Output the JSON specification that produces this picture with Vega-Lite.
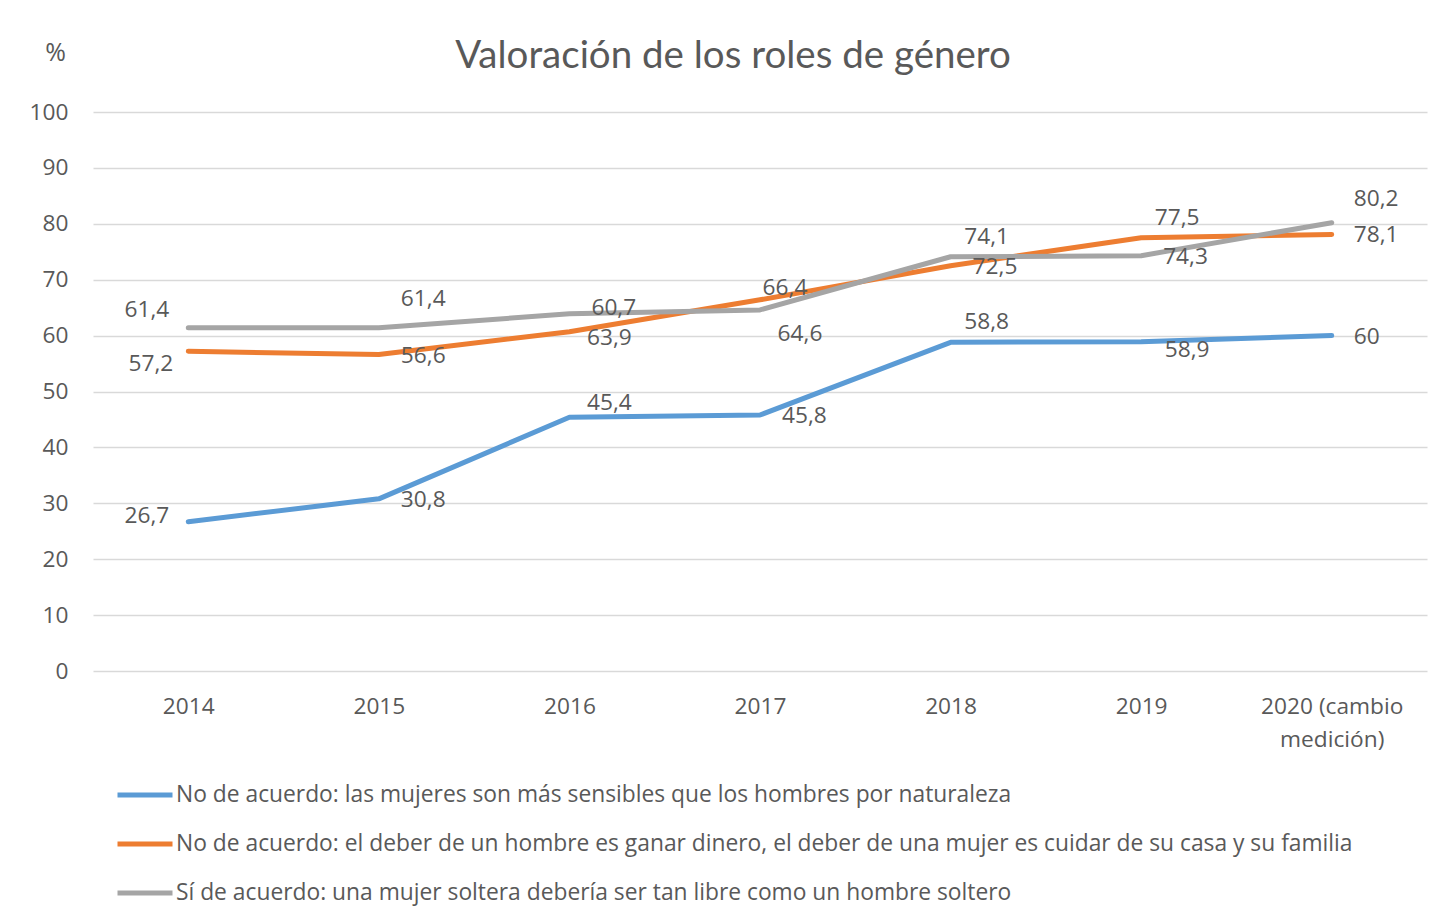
{
  "$schema": "https://vega.github.io/schema/vega-lite/v6.json",
  "width": 1334,
  "height": 559,
  "autosize": {"type": "none"},
  "padding": {"left": 93, "top": 112, "right": 7, "bottom": 251},
  "background": "white",
  "title": {
    "text": "Valoración de los roles de género",
    "fontSize": 38.5,
    "font": "Lato",
    "fontWeight": "normal",
    "color": "#595959",
    "anchor": "middle",
    "dx": -27,
    "offset": -36
  },
  "config": {
    "locale": {"number": {"decimal": ",", "thousands": ".", "grouping": [3], "currency": ["", " €"]}},
    "view": {"stroke": null},
    "font": "Open Sans"
  },
  "data": {
    "values": [
      {"anio": "2014", "cod": "B", "serie": "No de acuerdo: las mujeres son más sensibles que los hombres por naturaleza", "valor": 26.7},
      {"anio": "2015", "cod": "B", "serie": "No de acuerdo: las mujeres son más sensibles que los hombres por naturaleza", "valor": 30.8},
      {"anio": "2016", "cod": "B", "serie": "No de acuerdo: las mujeres son más sensibles que los hombres por naturaleza", "valor": 45.4},
      {"anio": "2017", "cod": "B", "serie": "No de acuerdo: las mujeres son más sensibles que los hombres por naturaleza", "valor": 45.8},
      {"anio": "2018", "cod": "B", "serie": "No de acuerdo: las mujeres son más sensibles que los hombres por naturaleza", "valor": 58.8},
      {"anio": "2019", "cod": "B", "serie": "No de acuerdo: las mujeres son más sensibles que los hombres por naturaleza", "valor": 58.9},
      {"anio": "2020 (cambio medición)", "cod": "B", "serie": "No de acuerdo: las mujeres son más sensibles que los hombres por naturaleza", "valor": 60},
      {"anio": "2014", "cod": "O", "serie": "No de acuerdo: el deber de un hombre es ganar dinero, el deber de una mujer es cuidar de su casa y su familia", "valor": 57.2},
      {"anio": "2015", "cod": "O", "serie": "No de acuerdo: el deber de un hombre es ganar dinero, el deber de una mujer es cuidar de su casa y su familia", "valor": 56.6},
      {"anio": "2016", "cod": "O", "serie": "No de acuerdo: el deber de un hombre es ganar dinero, el deber de una mujer es cuidar de su casa y su familia", "valor": 60.7},
      {"anio": "2017", "cod": "O", "serie": "No de acuerdo: el deber de un hombre es ganar dinero, el deber de una mujer es cuidar de su casa y su familia", "valor": 66.4},
      {"anio": "2018", "cod": "O", "serie": "No de acuerdo: el deber de un hombre es ganar dinero, el deber de una mujer es cuidar de su casa y su familia", "valor": 72.5},
      {"anio": "2019", "cod": "O", "serie": "No de acuerdo: el deber de un hombre es ganar dinero, el deber de una mujer es cuidar de su casa y su familia", "valor": 77.5},
      {"anio": "2020 (cambio medición)", "cod": "O", "serie": "No de acuerdo: el deber de un hombre es ganar dinero, el deber de una mujer es cuidar de su casa y su familia", "valor": 78.1},
      {"anio": "2014", "cod": "G", "serie": "Sí de acuerdo: una mujer soltera debería ser tan libre como un hombre soltero", "valor": 61.4},
      {"anio": "2015", "cod": "G", "serie": "Sí de acuerdo: una mujer soltera debería ser tan libre como un hombre soltero", "valor": 61.4},
      {"anio": "2016", "cod": "G", "serie": "Sí de acuerdo: una mujer soltera debería ser tan libre como un hombre soltero", "valor": 63.9},
      {"anio": "2017", "cod": "G", "serie": "Sí de acuerdo: una mujer soltera debería ser tan libre como un hombre soltero", "valor": 64.6},
      {"anio": "2018", "cod": "G", "serie": "Sí de acuerdo: una mujer soltera debería ser tan libre como un hombre soltero", "valor": 74.1},
      {"anio": "2019", "cod": "G", "serie": "Sí de acuerdo: una mujer soltera debería ser tan libre como un hombre soltero", "valor": 74.3},
      {"anio": "2020 (cambio medición)", "cod": "G", "serie": "Sí de acuerdo: una mujer soltera debería ser tan libre como un hombre soltero", "valor": 80.2}
    ]
  },
  "encoding": {
    "x": {
      "field": "anio",
      "type": "ordinal",
      "scale": {"type": "point", "padding": 0.5},
      "sort": null,
      "axis": {
        "title": null,
        "labelAngle": 0,
        "labelFontSize": 22.7,
        "labelColor": "#595959",
        "labelPadding": 24,
        "labelBaseline": "top",
        "labelLineHeight": 33,
        "labelExpr": "datum.label == '2020 (cambio medición)' ? ['2020 (cambio', 'medición)'] : datum.label",
        "ticks": false,
        "domain": false,
        "grid": false
      }
    },
    "y": {
      "field": "valor",
      "type": "quantitative",
      "scale": {"domain": [0, 100], "nice": false, "zero": true},
      "axis": {
        "values": [0, 10, 20, 30, 40, 50, 60, 70, 80, 90, 100],
        "title": "%",
        "titleAngle": 0,
        "titleX": -38,
        "titleY": -60,
        "titleAlign": "center",
        "titleBaseline": "middle",
        "titleFontSize": 25,
        "titleFontWeight": "normal",
        "titleColor": "#595959",
        "labelFontSize": 22.7,
        "labelColor": "#595959",
        "labelPadding": 25,
        "ticks": false,
        "domain": false,
        "grid": true,
        "gridColor": "#d9d9d9",
        "gridWidth": 1.5
      }
    }
  },
  "layer": [
    {
      "mark": {"type": "line", "strokeWidth": 5, "strokeJoin": "round", "strokeCap": "round"},
      "encoding": {
        "color": {
          "field": "serie",
          "type": "nominal",
          "scale": {
            "domain": [
              "No de acuerdo: las mujeres son más sensibles que los hombres por naturaleza",
              "No de acuerdo: el deber de un hombre es ganar dinero, el deber de una mujer es cuidar de su casa y su familia",
              "Sí de acuerdo: una mujer soltera debería ser tan libre como un hombre soltero"
            ],
            "range": ["#5b9bd5", "#ed7d31", "#a5a5a5"]
          },
          "legend": {
            "title": null,
            "orient": "none",
            "legendX": 22,
            "legendY": 672,
            "direction": "vertical",
            "symbolType": "stroke",
            "symbolSize": 3025,
            "symbolStrokeWidth": 5,
            "labelFontSize": 22.8,
            "labelColor": "#595959",
            "labelOffset": 1,
            "labelLimit": 1300,
            "clipHeight": 22,
            "rowPadding": 26
          }
        }
      }
    },
    {
      "transform": [{"filter": "indexof(['B2015','B2017','B2020','O2015','O2018','O2020','G2019'], datum.cod + slice(datum.anio,0,4)) >= 0"}],
      "mark": {"type": "text", "align": "left", "baseline": "middle", "dx": 22, "dy": 1, "fontSize": 22.7, "color": "#595959"},
      "encoding": {"text": {"field": "valor", "type": "quantitative", "format": ".1~f"}}
    },
    {
      "transform": [{"filter": "indexof(['O2016','G2020'], datum.cod + slice(datum.anio,0,4)) >= 0"}],
      "mark": {"type": "text", "align": "left", "baseline": "middle", "dx": 22, "dy": -24, "fontSize": 22.7, "color": "#595959"},
      "encoding": {"text": {"field": "valor", "type": "quantitative", "format": ".1~f"}}
    },
    {
      "transform": [{"filter": "indexof(['G2015'], datum.cod + slice(datum.anio,0,4)) >= 0"}],
      "mark": {"type": "text", "align": "left", "baseline": "middle", "dx": 22, "dy": -29, "fontSize": 22.7, "color": "#595959"},
      "encoding": {"text": {"field": "valor", "type": "quantitative", "format": ".1~f"}}
    },
    {
      "transform": [{"filter": "indexof(['B2018','O2019','G2018'], datum.cod + slice(datum.anio,0,4)) >= 0"}],
      "mark": {"type": "text", "align": "center", "baseline": "middle", "dx": 36, "dy": -20, "fontSize": 22.7, "color": "#595959"},
      "encoding": {"text": {"field": "valor", "type": "quantitative", "format": ".1~f"}}
    },
    {
      "transform": [{"filter": "indexof(['B2016'], datum.cod + slice(datum.anio,0,4)) >= 0"}],
      "mark": {"type": "text", "align": "center", "baseline": "middle", "dx": 40, "dy": -14, "fontSize": 22.7, "color": "#595959"},
      "encoding": {"text": {"field": "valor", "type": "quantitative", "format": ".1~f"}}
    },
    {
      "transform": [{"filter": "indexof(['O2017'], datum.cod + slice(datum.anio,0,4)) >= 0"}],
      "mark": {"type": "text", "align": "center", "baseline": "middle", "dx": 25, "dy": -12, "fontSize": 22.7, "color": "#595959"},
      "encoding": {"text": {"field": "valor", "type": "quantitative", "format": ".1~f"}}
    },
    {
      "transform": [{"filter": "indexof(['G2016','G2017'], datum.cod + slice(datum.anio,0,4)) >= 0"}],
      "mark": {"type": "text", "align": "center", "baseline": "middle", "dx": 40, "dy": 24, "fontSize": 22.7, "color": "#595959"},
      "encoding": {"text": {"field": "valor", "type": "quantitative", "format": ".1~f"}}
    },
    {
      "transform": [{"filter": "indexof(['B2019'], datum.cod + slice(datum.anio,0,4)) >= 0"}],
      "mark": {"type": "text", "align": "center", "baseline": "middle", "dx": 46, "dy": 8, "fontSize": 22.7, "color": "#595959"},
      "encoding": {"text": {"field": "valor", "type": "quantitative", "format": ".1~f"}}
    },
    {
      "transform": [{"filter": "indexof(['B2014'], datum.cod + slice(datum.anio,0,4)) >= 0"}],
      "mark": {"type": "text", "align": "right", "baseline": "middle", "dx": -19, "dy": -6, "fontSize": 22.7, "color": "#595959"},
      "encoding": {"text": {"field": "valor", "type": "quantitative", "format": ".1~f"}}
    },
    {
      "transform": [{"filter": "indexof(['G2014'], datum.cod + slice(datum.anio,0,4)) >= 0"}],
      "mark": {"type": "text", "align": "right", "baseline": "middle", "dx": -19, "dy": -18, "fontSize": 22.7, "color": "#595959"},
      "encoding": {"text": {"field": "valor", "type": "quantitative", "format": ".1~f"}}
    },
    {
      "transform": [{"filter": "indexof(['O2014'], datum.cod + slice(datum.anio,0,4)) >= 0"}],
      "mark": {"type": "text", "align": "right", "baseline": "middle", "dx": -15, "dy": 13, "fontSize": 22.7, "color": "#595959"},
      "encoding": {"text": {"field": "valor", "type": "quantitative", "format": ".1~f"}}
    }
  ]
}
